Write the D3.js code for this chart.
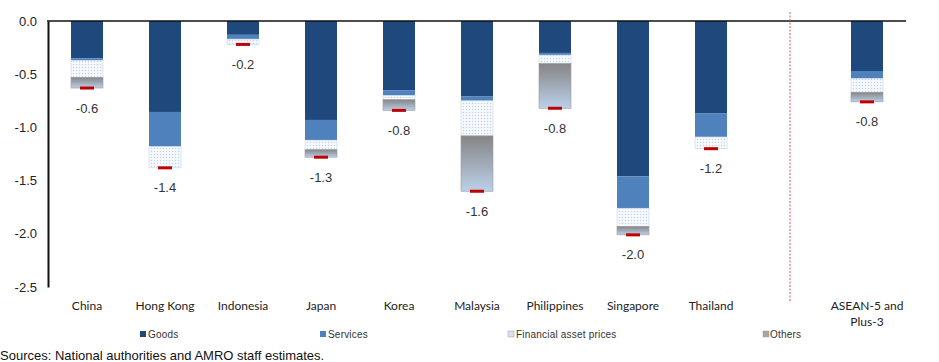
<!DOCTYPE html>
<html>
<head>
<meta charset="utf-8">
<script src="https://cdn.jsdelivr.net/npm/d3@7"></script>
<style>
  body { margin: 0; background: #fff; }
  svg { display: block; }
</style>
</head>
<body>
<svg id="chart" width="939" height="362"></svg>
<script>
// DATA //
var categories = ["China", "Hong Kong", "Indonesia", "Japan", "Korea", "Malaysia", "Philippines", "Singapore", "Thailand", "", "ASEAN-5 and Plus-3"];
var goods     = [-0.35, -0.855, -0.13, -0.93, -0.65, -0.71, -0.30, -1.46, -0.87, null, -0.47];
var services  = [-0.02, -0.325, -0.04, -0.19, -0.05, -0.04, -0.02, -0.30, -0.22, null, -0.07];
var financial = [-0.16, -0.20, -0.05, -0.09, -0.04, -0.33, -0.08, -0.17, -0.11, null, -0.13];
var others    = [-0.10, 0, 0, -0.07, -0.10, -0.52, -0.42, -0.08, 0, null, -0.09];
var yTicks = [0, -0.5, -1.0, -1.5, -2.0, -2.5];
var seriesNames = ["Goods", "Services", "Financial asset prices", "Others"];

var svg = d3.select("#chart");
var defs = svg.append("defs");

// dotted fill for financial asset prices
var dots = defs.append("pattern")
  .attr("id", "dots")
  .attr("width", 3)
  .attr("height", 3)
  .attr("patternUnits", "userSpaceOnUse");
dots.append("rect").attr("width", 3).attr("height", 3).attr("fill", "#f7f9fd");
dots.append("circle").attr("cx", 1.5).attr("cy", 1.5).attr("r", 0.75).attr("fill", "#c3d3ea");

// grey to light blue gradient for others
var grad = defs.append("linearGradient")
  .attr("id", "othersGrad")
  .attr("x1", 0).attr("y1", 0).attr("x2", 0).attr("y2", 1);
grad.append("stop").attr("offset", "0%").attr("stop-color", "#858585");
grad.append("stop").attr("offset", "100%").attr("stop-color", "#bcd0ea");

var fills = ["#1f497d", "#4f81bd", "url(#dots)", "url(#othersGrad)"];
var strokes = ["none", "none", "#c5d4ea", "#9a9a9a"];

// SCALES //
var yScale = d3.scaleLinear()
  .domain([-2.5, 0])
  .range([287, 21]);

var xScale = d3.scaleBand()
  .domain(categories)
  .range([48, 906])
  .paddingInner(0.59)
  .paddingOuter(0.295);

// building stacked segments from the arrays
var stacks = categories.map(function(c, i) {
  if (goods[i] === null) return null;
  var vals = [goods[i], services[i], financial[i], others[i]];
  var pos = 0;
  var segs = vals.map(function(v, k) {
    var s = { cat: c, k: k, top: pos, bottom: pos + v };
    pos += v;
    return s;
  });
  return { cat: c, segs: segs, total: pos };
}).filter(function(d) { return d !== null; });

// BARS //
var barGroup = svg.append("g").attr("id", "bars");

barGroup.selectAll("g")
  .data(stacks)
  .enter().append("g")
  .selectAll("rect")
  .data(function(d) { return d.segs.filter(function(s) { return s.bottom !== s.top; }); })
  .enter().append("rect")
    .attr("x", function(s) { return xScale(s.cat); })
    .attr("width", xScale.bandwidth())
    .attr("y", function(s) { return yScale(s.top); })
    .attr("height", function(s) { return yScale(s.bottom) - yScale(s.top); })
    .attr("fill", function(s) { return fills[s.k]; })
    .attr("stroke", function(s) { return strokes[s.k]; })
    .attr("stroke-width", 0.6);

// red total markers
barGroup.selectAll(".marker")
  .data(stacks)
  .enter().append("rect")
    .attr("class", "marker")
    .attr("x", function(d) { return xScale(d.cat) + xScale.bandwidth() / 2 - 7; })
    .attr("y", function(d) { return yScale(d.total) - 1.5; })
    .attr("width", 14)
    .attr("height", 3)
    .attr("fill", "#c00000");

// total labels
barGroup.selectAll(".total")
  .data(stacks)
  .enter().append("text")
    .attr("class", "total")
    .attr("x", function(d) { return xScale(d.cat) + xScale.bandwidth() / 2; })
    .attr("y", function(d) { return yScale(d.total) + 20; })
    .attr("dy", "0.35em")
    .attr("text-anchor", "middle")
    .style("font", "13px Arial, 'Liberation Sans', sans-serif")
    .style("fill", "#333")
    .text(function(d) { return d.total.toFixed(1); });

// AXES //
var yAxis = svg.append("g")
  .attr("transform", "translate(48, 0)")
  .call(d3.axisLeft(yScale).tickValues(yTicks).tickSize(0).tickPadding(11)
    .tickFormat(function(v) { return v.toFixed(1); }));
yAxis.select(".domain").attr("stroke", "#111").attr("stroke-width", 2);
yAxis.selectAll("text")
  .style("font", "13px Arial, 'Liberation Sans', sans-serif")
  .style("fill", "#222");

svg.append("line")
  .attr("x1", 47).attr("x2", 906)
  .attr("y1", yScale(0)).attr("y2", yScale(0))
  .attr("stroke", "#111")
  .attr("stroke-width", 1.6);

// divider before the regional aggregate
var gapX = xScale("") + xScale.bandwidth() / 2 + 1;
svg.append("line")
  .attr("x1", gapX).attr("x2", gapX)
  .attr("y1", 12).attr("y2", 302)
  .attr("stroke", "#e0504a")
  .attr("stroke-width", 1)
  .attr("stroke-dasharray", "2,1.5");

// category labels
svg.append("g").selectAll("text")
  .data(categories.filter(function(c) { return c !== ""; }))
  .enter().append("text")
    .attr("x", function(c) { return xScale(c) + xScale.bandwidth() / 2; })
    .attr("y", 306)
    .attr("dy", "0.35em")
    .attr("text-anchor", "middle")
    .style("font", "12px Lato, 'Open Sans', sans-serif")
    .style("fill", "#222")
    .each(function(c) {
      var t = d3.select(this);
      if (c === "ASEAN-5 and Plus-3") {
        t.append("tspan").attr("x", t.attr("x")).text("ASEAN-5 and");
        t.append("tspan").attr("x", t.attr("x")).attr("dy", "1.3em").text("Plus-3");
      } else {
        t.text(c);
      }
    });

// LEGEND //
var legendX = [140, 320, 508, 763];
var legend = svg.append("g").selectAll("g")
  .data(seriesNames)
  .enter().append("g")
    .attr("transform", function(d, i) { return "translate(" + legendX[i] + ", 334)"; });

legend.append("rect")
  .attr("x", 0).attr("y", -3)
  .attr("width", 6).attr("height", 6)
  .attr("fill", function(d, i) { return [ "#1f497d", "#4f81bd", "#d9e1f0", "#a6a6a6"][i]; })
  .attr("stroke", function(d, i) { return i > 1 ? "#9a9a9a" : "none"; })
  .attr("stroke-width", 0.5);

legend.append("text")
  .attr("x", function(d, i) { return i === 3 ? 7 : 8; })
  .attr("dy", "0.35em")
  .style("font", "10px Arial, 'Liberation Sans', sans-serif")
  .style("letter-spacing", "0.2px")
  .style("fill", "#333")
  .text(function(d) { return d; });

// source note
svg.append("text")
  .attr("x", 0)
  .attr("y", 355)
  .attr("dy", "0.35em")
  .style("font", "13px Arial, 'Liberation Sans', sans-serif")
  .style("fill", "#111")
  .text("Sources: National authorities and AMRO staff estimates.");
</script>
</body>
</html>
